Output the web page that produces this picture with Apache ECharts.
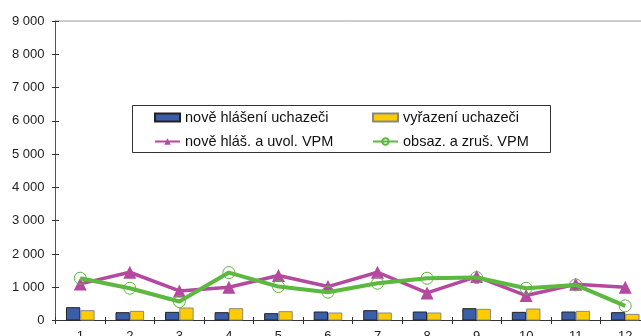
<!DOCTYPE html>
<html><head><meta charset="utf-8">
<script src="https://cdn.jsdelivr.net/npm/echarts@6/dist/echarts.min.js"></script>
<style>html,body{margin:0;padding:0;background:#fff}#c{width:641px;height:336px}</style>
</head><body><div id="c"></div>
<script>
const categories = ['1','2','3','4','5','6','7','8','9','10','11','12'];
const noveHlaseni = [400, 250, 260, 250, 220, 270, 310, 270, 370, 260, 270, 250];
const vyrazeni = [310, 290, 390, 370, 280, 240, 240, 240, 350, 360, 290, 200];
const noveVPM = [1100, 1450, 890, 1000, 1350, 1020, 1450, 830, 1320, 750, 1090, 1000];
const obsazVPM = [1270, 970, 570, 1440, 1020, 850, 1120, 1270, 1290, 970, 1070, 440];
const names = ['nově hlášení uchazeči', 'vyřazení uchazeči', 'nově hláš. a uvol. VPM', 'obsaz. a zruš. VPM'];

const font = 'Liberation Sans, Arial, sans-serif';
const chart = echarts.init(document.getElementById('c'), null, {renderer: 'canvas'});
const yMin = 0, yMax = 9000, yInt = 1000;
chart.setOption({
  animation: false,
  backgroundColor: '#fff',
  grid: {left: 55.5, right: -9, top: 21, bottom: 15.5, show: true, borderColor: '#999', borderWidth: 1,
    backgroundColor: 'transparent', containLabel: false, outerBoundsMode: 'none'},
  xAxis: [{
    type: 'category', data: categories,
    axisLine: {lineStyle: {color: '#333', width: 1}},
    axisTick: {show: true, length: 3.5, lineStyle: {color: '#333'}},
    axisLabel: {color: '#222', fontFamily: font, fontSize: 13, margin: 9},
    splitLine: {show: false}
  }, {
    type: 'category', data: categories, position: 'bottom', gridIndex: 0,
    axisLine: {show: false},
    axisTick: {show: true, inside: true, length: 3.5, lineStyle: {color: '#333'}},
    axisLabel: {show: false}, splitLine: {show: false}
  }],
  yAxis: [{
    type: 'value', min: yMin, max: yMax, interval: yInt,
    axisLine: {show: true, lineStyle: {color: '#555', width: 1}},
    axisTick: {show: true, length: 3.5, lineStyle: {color: '#333'}},
    axisLabel: {color: '#222', fontFamily: font, fontSize: 13, margin: 11,
      formatter: v => v >= 1000 ? Math.floor(v/1000) + ' ' + String(v%1000).padStart(3,'0') : String(v)},
    splitLine: {show: false}
  }, {
    type: 'value', min: yMin, max: yMax, interval: yInt, position: 'left',
    axisLine: {show: false},
    axisTick: {show: true, inside: true, length: 3.5, lineStyle: {color: '#333'}},
    axisLabel: {show: false}, splitLine: {show: false}
  }],
  legend: [{
    orient: 'vertical', left: 154, top: 110, padding: 0, itemWidth: 25, itemHeight: 8, itemGap: 9,
    data: [{name: names[0], icon: 'rect'}, {name: names[2]}],
    textStyle: {fontFamily: font, fontSize: 14.5, color: '#111'}
  }, {
    orient: 'vertical', left: 372, top: 110, padding: 0, itemWidth: 25, itemHeight: 8, itemGap: 9,
    data: [{name: names[1], icon: 'rect'}, {name: names[3]}],
    textStyle: {fontFamily: font, fontSize: 14.5, color: '#111'}
  }],
  graphic: [{
    type: 'rect', left: 132, top: 105, z: -1,
    shape: {width: 418, height: 47},
    style: {fill: '#fff', stroke: '#333', lineWidth: 1}
  }],
  series: [{
    name: names[0], type: 'bar', data: noveHlaseni, barWidth: 14.3, barGap: '0%',
    itemStyle: {color: '#3b5ea8', borderColor: '#222', borderWidth: 1}
  }, {
    name: names[1], type: 'bar', data: vyrazeni, barWidth: 14.3, barGap: '0%',
    itemStyle: {color: '#ffcc00', borderColor: '#888', borderWidth: 1}
  }, {
    name: names[2], type: 'line', data: noveVPM, symbol: 'triangle', symbolSize: 13,
    lineStyle: {color: '#b5489f', width: 3.5},
    itemStyle: {color: '#b5489f'}, z: 3
  }, {
    name: names[3], type: 'line', data: obsazVPM, symbol: 'circle', symbolSize: 12,
    lineStyle: {color: '#5cb83e', width: 4},
    itemStyle: {color: 'rgba(255,255,255,0)', borderColor: '#5cb83e', borderWidth: 1}, z: 4
  }]
});
</script></body></html>
